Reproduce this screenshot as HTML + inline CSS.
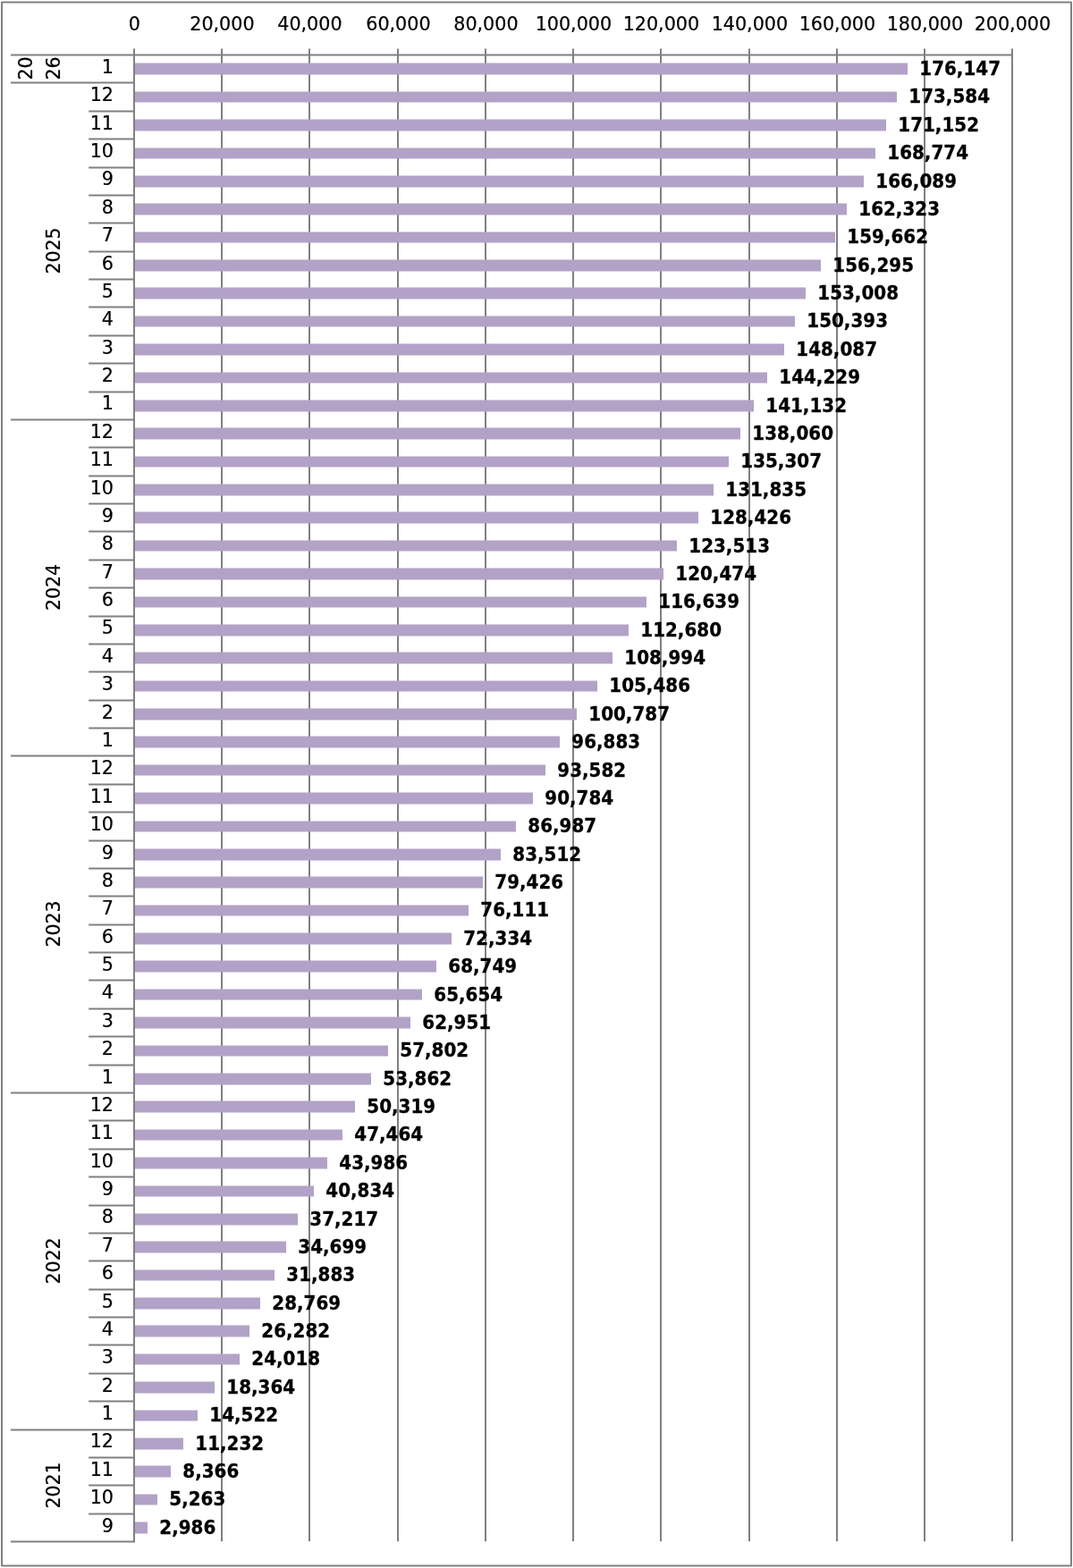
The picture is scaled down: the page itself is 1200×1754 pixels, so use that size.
<!DOCTYPE html>
<html lang="en">
<head>
<meta charset="utf-8">
<title>Chart</title>
<style>
html,body{margin:0;padding:0;background:#fff;}
body{width:1200px;height:1754px;overflow:hidden;}
svg{display:block;}
text{font-family:"DejaVu Sans", "Liberation Sans", sans-serif;fill:#000;}
.r{font-size:20.9px;stroke:#000;stroke-width:0.2px;}
.b{font-size:20.9px;font-weight:bold;stroke:#000;stroke-width:0.3px;}
.l{stroke:#808080;stroke-width:2;fill:none;}
.bar{fill:#b3a2c7;}
</style>
</head>
<body>
<svg width="1200" height="1754" viewBox="0 0 1200 1754">
<rect x="0" y="0" width="1200" height="1754" fill="#fff"/>
<rect class="l" stroke-linejoin="round" x="2" y="2.5" width="1196" height="1749"/>
<g class="l">
<line x1="248" y1="54.6" x2="248" y2="1724.2"/>
<line x1="346" y1="54.6" x2="346" y2="1724.2"/>
<line x1="445" y1="54.6" x2="445" y2="1724.2"/>
<line x1="543" y1="54.6" x2="543" y2="1724.2"/>
<line x1="641" y1="54.6" x2="641" y2="1724.2"/>
<line x1="739" y1="54.6" x2="739" y2="1724.2"/>
<line x1="838" y1="54.6" x2="838" y2="1724.2"/>
<line x1="936" y1="54.6" x2="936" y2="1724.2"/>
<line x1="1034" y1="54.6" x2="1034" y2="1724.2"/>
<line x1="1132" y1="54.6" x2="1132" y2="1724.2"/>
</g>
<g class="bar">
<rect x="150" y="70.5" width="865" height="13"/>
<rect x="150" y="102.5" width="853" height="12"/>
<rect x="150" y="133.5" width="841" height="13"/>
<rect x="150" y="165.5" width="829" height="12"/>
<rect x="150" y="196.5" width="816" height="13"/>
<rect x="150" y="227.5" width="797" height="13"/>
<rect x="150" y="259.5" width="784" height="12"/>
<rect x="150" y="290.5" width="768" height="13"/>
<rect x="150" y="321.5" width="751" height="13"/>
<rect x="150" y="353.5" width="739" height="12"/>
<rect x="150" y="384.5" width="727" height="13"/>
<rect x="150" y="416.5" width="708" height="12"/>
<rect x="150" y="447.5" width="693" height="13"/>
<rect x="150" y="478.5" width="678" height="13"/>
<rect x="150" y="510.5" width="665" height="12"/>
<rect x="150" y="541.5" width="648" height="13"/>
<rect x="150" y="572.5" width="631" height="13"/>
<rect x="150" y="604.5" width="607" height="12"/>
<rect x="150" y="635.5" width="592" height="13"/>
<rect x="150" y="667.5" width="573" height="12"/>
<rect x="150" y="698.5" width="553" height="13"/>
<rect x="150" y="729.5" width="535" height="13"/>
<rect x="150" y="761.5" width="518" height="12"/>
<rect x="150" y="792.5" width="495" height="13"/>
<rect x="150" y="823.5" width="476" height="13"/>
<rect x="150" y="855.5" width="460" height="12"/>
<rect x="150" y="886.5" width="446" height="13"/>
<rect x="150" y="918.5" width="427" height="12"/>
<rect x="150" y="949.5" width="410" height="13"/>
<rect x="150" y="980.5" width="390" height="13"/>
<rect x="150" y="1012.5" width="374" height="12"/>
<rect x="150" y="1043.5" width="355" height="13"/>
<rect x="150" y="1074.5" width="338" height="13"/>
<rect x="150" y="1106.5" width="322" height="12"/>
<rect x="150" y="1137.5" width="309" height="13"/>
<rect x="150" y="1169.5" width="284" height="12"/>
<rect x="150" y="1200.5" width="265" height="13"/>
<rect x="150" y="1231.5" width="247" height="13"/>
<rect x="150" y="1263.5" width="233" height="12"/>
<rect x="150" y="1294.5" width="216" height="13"/>
<rect x="150" y="1326.5" width="201" height="12"/>
<rect x="150" y="1357.5" width="183" height="13"/>
<rect x="150" y="1388.5" width="170" height="13"/>
<rect x="150" y="1420.5" width="157" height="12"/>
<rect x="150" y="1451.5" width="141" height="13"/>
<rect x="150" y="1482.5" width="129" height="13"/>
<rect x="150" y="1514.5" width="118" height="12"/>
<rect x="150" y="1545.5" width="90" height="13"/>
<rect x="150" y="1577.5" width="71" height="12"/>
<rect x="150" y="1608.5" width="55" height="13"/>
<rect x="150" y="1639.5" width="41" height="13"/>
<rect x="150" y="1671.5" width="26" height="12"/>
<rect x="150" y="1702.5" width="15" height="13"/>
</g>
<g class="l">
<line x1="150" y1="54.6" x2="150" y2="1725.5"/>
<line x1="12" y1="61.5" x2="1132" y2="61.5"/>
<line x1="12" y1="92.5" x2="150" y2="92.5"/>
<line x1="99.2" y1="124.5" x2="150" y2="124.5"/>
<line x1="99.2" y1="155.5" x2="150" y2="155.5"/>
<line x1="99.2" y1="187.5" x2="150" y2="187.5"/>
<line x1="99.2" y1="218.5" x2="150" y2="218.5"/>
<line x1="99.2" y1="249.5" x2="150" y2="249.5"/>
<line x1="99.2" y1="281.5" x2="150" y2="281.5"/>
<line x1="99.2" y1="312.5" x2="150" y2="312.5"/>
<line x1="99.2" y1="343.5" x2="150" y2="343.5"/>
<line x1="99.2" y1="375.5" x2="150" y2="375.5"/>
<line x1="99.2" y1="406.5" x2="150" y2="406.5"/>
<line x1="99.2" y1="438.5" x2="150" y2="438.5"/>
<line x1="12" y1="469.5" x2="150" y2="469.5"/>
<line x1="99.2" y1="500.5" x2="150" y2="500.5"/>
<line x1="99.2" y1="532.5" x2="150" y2="532.5"/>
<line x1="99.2" y1="563.5" x2="150" y2="563.5"/>
<line x1="99.2" y1="594.5" x2="150" y2="594.5"/>
<line x1="99.2" y1="626.5" x2="150" y2="626.5"/>
<line x1="99.2" y1="657.5" x2="150" y2="657.5"/>
<line x1="99.2" y1="689.5" x2="150" y2="689.5"/>
<line x1="99.2" y1="720.5" x2="150" y2="720.5"/>
<line x1="99.2" y1="751.5" x2="150" y2="751.5"/>
<line x1="99.2" y1="783.5" x2="150" y2="783.5"/>
<line x1="99.2" y1="814.5" x2="150" y2="814.5"/>
<line x1="12" y1="845.5" x2="150" y2="845.5"/>
<line x1="99.2" y1="877.5" x2="150" y2="877.5"/>
<line x1="99.2" y1="908.5" x2="150" y2="908.5"/>
<line x1="99.2" y1="940.5" x2="150" y2="940.5"/>
<line x1="99.2" y1="971.5" x2="150" y2="971.5"/>
<line x1="99.2" y1="1002.5" x2="150" y2="1002.5"/>
<line x1="99.2" y1="1034.5" x2="150" y2="1034.5"/>
<line x1="99.2" y1="1065.5" x2="150" y2="1065.5"/>
<line x1="99.2" y1="1096.5" x2="150" y2="1096.5"/>
<line x1="99.2" y1="1128.5" x2="150" y2="1128.5"/>
<line x1="99.2" y1="1159.5" x2="150" y2="1159.5"/>
<line x1="99.2" y1="1191.5" x2="150" y2="1191.5"/>
<line x1="12" y1="1222.5" x2="150" y2="1222.5"/>
<line x1="99.2" y1="1253.5" x2="150" y2="1253.5"/>
<line x1="99.2" y1="1285.5" x2="150" y2="1285.5"/>
<line x1="99.2" y1="1316.5" x2="150" y2="1316.5"/>
<line x1="99.2" y1="1348.5" x2="150" y2="1348.5"/>
<line x1="99.2" y1="1379.5" x2="150" y2="1379.5"/>
<line x1="99.2" y1="1410.5" x2="150" y2="1410.5"/>
<line x1="99.2" y1="1442.5" x2="150" y2="1442.5"/>
<line x1="99.2" y1="1473.5" x2="150" y2="1473.5"/>
<line x1="99.2" y1="1504.5" x2="150" y2="1504.5"/>
<line x1="99.2" y1="1536.5" x2="150" y2="1536.5"/>
<line x1="99.2" y1="1567.5" x2="150" y2="1567.5"/>
<line x1="12" y1="1599.5" x2="150" y2="1599.5"/>
<line x1="99.2" y1="1630.5" x2="150" y2="1630.5"/>
<line x1="99.2" y1="1661.5" x2="150" y2="1661.5"/>
<line x1="99.2" y1="1693.5" x2="150" y2="1693.5"/>
<line x1="12" y1="1724.5" x2="150" y2="1724.5"/>
</g>
<g class="r" text-anchor="middle">
<text transform="translate(150.4 33.9) scale(0.99 1)">0</text>
<text transform="translate(248.4 33.9) scale(0.99 1)">20,000</text>
<text transform="translate(346.4 33.9) scale(0.99 1)">40,000</text>
<text transform="translate(445.4 33.9) scale(0.99 1)">60,000</text>
<text transform="translate(543.4 33.9) scale(0.99 1)">80,000</text>
<text transform="translate(641.4 33.9) scale(0.99 1)">100,000</text>
<text transform="translate(739.4 33.9) scale(0.99 1)">120,000</text>
<text transform="translate(838.4 33.9) scale(0.99 1)">140,000</text>
<text transform="translate(936.4 33.9) scale(0.99 1)">160,000</text>
<text transform="translate(1034.4 33.9) scale(0.99 1)">180,000</text>
<text transform="translate(1132.4 33.9) scale(0.99 1)">200,000</text>
</g>
<g class="r" text-anchor="end">
<text transform="translate(127 82) scale(0.99 1)">1</text>
<text transform="translate(127 113) scale(0.99 1)">12</text>
<text transform="translate(127 145) scale(0.99 1)">11</text>
<text transform="translate(127 176) scale(0.99 1)">10</text>
<text transform="translate(127 207) scale(0.99 1)">9</text>
<text transform="translate(127 239) scale(0.99 1)">8</text>
<text transform="translate(127 270) scale(0.99 1)">7</text>
<text transform="translate(127 302) scale(0.99 1)">6</text>
<text transform="translate(127 333) scale(0.99 1)">5</text>
<text transform="translate(127 364) scale(0.99 1)">4</text>
<text transform="translate(127 396) scale(0.99 1)">3</text>
<text transform="translate(127 427) scale(0.99 1)">2</text>
<text transform="translate(127 458) scale(0.99 1)">1</text>
<text transform="translate(127 490) scale(0.99 1)">12</text>
<text transform="translate(127 521) scale(0.99 1)">11</text>
<text transform="translate(127 553) scale(0.99 1)">10</text>
<text transform="translate(127 584) scale(0.99 1)">9</text>
<text transform="translate(127 615) scale(0.99 1)">8</text>
<text transform="translate(127 647) scale(0.99 1)">7</text>
<text transform="translate(127 678) scale(0.99 1)">6</text>
<text transform="translate(127 709) scale(0.99 1)">5</text>
<text transform="translate(127 741) scale(0.99 1)">4</text>
<text transform="translate(127 772) scale(0.99 1)">3</text>
<text transform="translate(127 804) scale(0.99 1)">2</text>
<text transform="translate(127 835) scale(0.99 1)">1</text>
<text transform="translate(127 866) scale(0.99 1)">12</text>
<text transform="translate(127 898) scale(0.99 1)">11</text>
<text transform="translate(127 929) scale(0.99 1)">10</text>
<text transform="translate(127 961) scale(0.99 1)">9</text>
<text transform="translate(127 992) scale(0.99 1)">8</text>
<text transform="translate(127 1023) scale(0.99 1)">7</text>
<text transform="translate(127 1055) scale(0.99 1)">6</text>
<text transform="translate(127 1086) scale(0.99 1)">5</text>
<text transform="translate(127 1117) scale(0.99 1)">4</text>
<text transform="translate(127 1149) scale(0.99 1)">3</text>
<text transform="translate(127 1180) scale(0.99 1)">2</text>
<text transform="translate(127 1212) scale(0.99 1)">1</text>
<text transform="translate(127 1243) scale(0.99 1)">12</text>
<text transform="translate(127 1274) scale(0.99 1)">11</text>
<text transform="translate(127 1306) scale(0.99 1)">10</text>
<text transform="translate(127 1337) scale(0.99 1)">9</text>
<text transform="translate(127 1368) scale(0.99 1)">8</text>
<text transform="translate(127 1400) scale(0.99 1)">7</text>
<text transform="translate(127 1431) scale(0.99 1)">6</text>
<text transform="translate(127 1463) scale(0.99 1)">5</text>
<text transform="translate(127 1494) scale(0.99 1)">4</text>
<text transform="translate(127 1525) scale(0.99 1)">3</text>
<text transform="translate(127 1557) scale(0.99 1)">2</text>
<text transform="translate(127 1588) scale(0.99 1)">1</text>
<text transform="translate(127 1619) scale(0.99 1)">12</text>
<text transform="translate(127 1651) scale(0.99 1)">11</text>
<text transform="translate(127 1682) scale(0.99 1)">10</text>
<text transform="translate(127 1714) scale(0.99 1)">9</text>
</g>
<g class="r" text-anchor="middle">
<text transform="translate(36 76.6) rotate(-90) scale(0.978 1)">20</text>
<text transform="translate(67 76.6) rotate(-90) scale(0.978 1)">26</text>
<text transform="translate(67 280.6) rotate(-90) scale(0.978 1)">2025</text>
<text transform="translate(67 657.1) rotate(-90) scale(0.978 1)">2024</text>
<text transform="translate(67 1033.6) rotate(-90) scale(0.978 1)">2023</text>
<text transform="translate(67 1410.6) rotate(-90) scale(0.978 1)">2022</text>
<text transform="translate(67 1661.6) rotate(-90) scale(0.978 1)">2021</text>
</g>
<g class="b">
<text transform="translate(1028.3 84) scale(0.953 1)">176,147</text>
<text transform="translate(1016.3 115) scale(0.953 1)">173,584</text>
<text transform="translate(1004.3 147) scale(0.953 1)">171,152</text>
<text transform="translate(992.3 178) scale(0.953 1)">168,774</text>
<text transform="translate(979.3 210) scale(0.953 1)">166,089</text>
<text transform="translate(960.3 241) scale(0.953 1)">162,323</text>
<text transform="translate(947.3 272) scale(0.953 1)">159,662</text>
<text transform="translate(931.3 304) scale(0.953 1)">156,295</text>
<text transform="translate(914.3 335) scale(0.953 1)">153,008</text>
<text transform="translate(902.3 366) scale(0.953 1)">150,393</text>
<text transform="translate(890.3 398) scale(0.953 1)">148,087</text>
<text transform="translate(871.3 429) scale(0.953 1)">144,229</text>
<text transform="translate(856.3 461) scale(0.953 1)">141,132</text>
<text transform="translate(841.3 492) scale(0.953 1)">138,060</text>
<text transform="translate(828.3 523) scale(0.953 1)">135,307</text>
<text transform="translate(811.3 555) scale(0.953 1)">131,835</text>
<text transform="translate(794.3 586) scale(0.953 1)">128,426</text>
<text transform="translate(770.3 618) scale(0.953 1)">123,513</text>
<text transform="translate(755.3 649) scale(0.953 1)">120,474</text>
<text transform="translate(736.3 680) scale(0.953 1)">116,639</text>
<text transform="translate(716.3 712) scale(0.953 1)">112,680</text>
<text transform="translate(698.3 743) scale(0.953 1)">108,994</text>
<text transform="translate(681.3 774) scale(0.953 1)">105,486</text>
<text transform="translate(658.3 806) scale(0.953 1)">100,787</text>
<text transform="translate(639.3 837) scale(0.953 1)">96,883</text>
<text transform="translate(623.3 869) scale(0.953 1)">93,582</text>
<text transform="translate(609.3 900) scale(0.953 1)">90,784</text>
<text transform="translate(590.3 931) scale(0.953 1)">86,987</text>
<text transform="translate(573.3 963) scale(0.953 1)">83,512</text>
<text transform="translate(553.3 994) scale(0.953 1)">79,426</text>
<text transform="translate(537.3 1025) scale(0.953 1)">76,111</text>
<text transform="translate(518.3 1057) scale(0.953 1)">72,334</text>
<text transform="translate(501.3 1088) scale(0.953 1)">68,749</text>
<text transform="translate(485.3 1120) scale(0.953 1)">65,654</text>
<text transform="translate(472.3 1151) scale(0.953 1)">62,951</text>
<text transform="translate(447.3 1182) scale(0.953 1)">57,802</text>
<text transform="translate(428.3 1214) scale(0.953 1)">53,862</text>
<text transform="translate(410.3 1245) scale(0.953 1)">50,319</text>
<text transform="translate(396.3 1276) scale(0.953 1)">47,464</text>
<text transform="translate(379.3 1308) scale(0.953 1)">43,986</text>
<text transform="translate(364.3 1339) scale(0.953 1)">40,834</text>
<text transform="translate(346.3 1371) scale(0.953 1)">37,217</text>
<text transform="translate(333.3 1402) scale(0.953 1)">34,699</text>
<text transform="translate(320.3 1433) scale(0.953 1)">31,883</text>
<text transform="translate(304.3 1465) scale(0.953 1)">28,769</text>
<text transform="translate(292.3 1496) scale(0.953 1)">26,282</text>
<text transform="translate(281.3 1527) scale(0.953 1)">24,018</text>
<text transform="translate(253.3 1559) scale(0.953 1)">18,364</text>
<text transform="translate(234.3 1590) scale(0.953 1)">14,522</text>
<text transform="translate(218.3 1622) scale(0.953 1)">11,232</text>
<text transform="translate(204.3 1653) scale(0.953 1)">8,366</text>
<text transform="translate(189.3 1684) scale(0.953 1)">5,263</text>
<text transform="translate(178.3 1716) scale(0.953 1)">2,986</text>
</g>
</svg>
</body>
</html>
